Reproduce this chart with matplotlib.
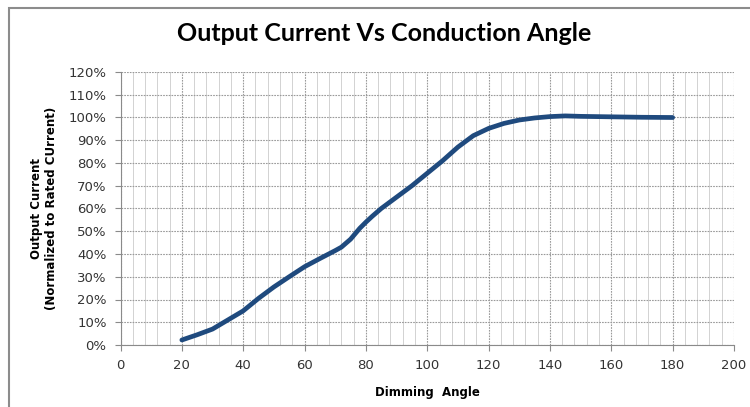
import matplotlib.pyplot as plt
from matplotlib.ticker import MultipleLocator, FuncFormatter
from matplotlib.patches import Rectangle

# Dimming angle (deg) vs normalized output current (%)
angle = [20, 25, 30, 35, 40, 45, 50, 55, 60, 65, 70, 72, 75, 78, 80, 82, 85, 90,
         95, 100, 105, 110, 115, 120, 125, 130, 135, 140, 145, 150, 160, 170, 180]
current = [2.2, 4.5, 7.0, 11.0, 15.0, 20.5, 25.5, 30.0, 34.4, 38.0, 41.5, 43.0,
           46.5, 51.3, 54.0, 56.5, 60.0, 65.0, 70.0, 75.5, 81.0, 87.0, 92.0, 95.2,
           97.4, 98.9, 99.8, 100.4, 100.7, 100.5, 100.3, 100.1, 100.0]

fig = plt.figure(figsize=(7.5, 4.07), dpi=100)
fig.patches.append(Rectangle((9 / 750, -0.05), 1.0, 1 - 8 / 407 + 0.05,
                             transform=fig.transFigure, fill=False,
                             edgecolor='#8c8c8c', linewidth=1.5))

ax = fig.add_axes([120.5 / 750, 62 / 407, 613.5 / 750, 273 / 407])
ax.plot(angle, current, color='#1f4a7e', linewidth=3.4, solid_capstyle='round')

ax.set_xlim(0, 200)
ax.set_ylim(0, 120)
ax.xaxis.set_major_locator(MultipleLocator(20))
ax.xaxis.set_minor_locator(MultipleLocator(4))
ax.yaxis.set_major_locator(MultipleLocator(10))
ax.yaxis.set_major_formatter(FuncFormatter(lambda v, p: f"{v:.0f}%"))

ax.grid(which='major', color='#9a9a9a', linestyle=(0, (1.5, 1)), linewidth=0.8)
ax.grid(which='minor', axis='x', color='#d2d2d2', linestyle='-', linewidth=0.7)
ax.set_axisbelow(True)

for side in ['top', 'right']:
    ax.spines[side].set_visible(False)
for side in ['left', 'bottom']:
    ax.spines[side].set_color('#8a8a8a')
ax.tick_params(which='major', length=4, color='#8a8a8a', labelsize=9.5,
               labelcolor='#333333', pad=6)
ax.tick_params(which='minor', length=0)

ax.set_xlabel('Dimming  Angle', fontsize=8.5, fontweight='bold', labelpad=10)
ax.set_ylabel('Output Current\n(Normalized to Rated CUrrent)', fontsize=8.5,
              fontweight='bold', labelpad=8)
fig.text(0.512, 0.918, 'Output Current Vs Conduction Angle', ha='center',
         va='center', fontsize=18, fontweight='bold', family='Lato')

fig.savefig('out.png', dpi=100)
